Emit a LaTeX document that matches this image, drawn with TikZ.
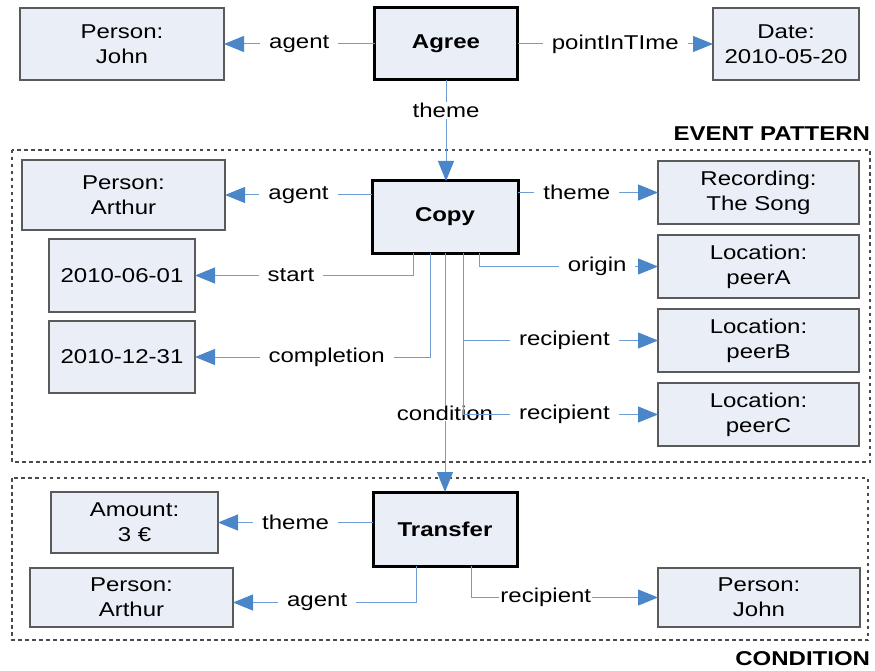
\documentclass[tikz,border=0pt]{standalone}
\usepackage{fontspec}
\setmainfont{Liberation Sans}[FakeStretch=1.2]
\usepackage{xcolor}
\definecolor{entityFill}{HTML}{E9EEF7}
\definecolor{entityLine}{HTML}{5A5A5A}
\definecolor{linkBlue}{HTML}{4A86C8}
\definecolor{linkLine}{HTML}{6E9DD3}
\definecolor{frameGray}{HTML}{4A4A4A}
\usetikzlibrary{arrows.meta, positioning}

\begin{document}
\begin{tikzpicture}[
    x=1pt, y=-1pt,
    every node/.style={outer sep=0pt, inner sep=3pt, font=\fontsize{20}{25}\selectfont},
    entity/.style={draw=entityLine, fill=entityFill, line width=1.2pt, align=center, minimum height=72pt},
    rightBox/.style={entity, minimum width=201pt, minimum height=63pt},
    eventBox/.style={draw=black, fill=entityFill, line width=3pt, minimum height=72pt, font=\fontsize{20}{25}\selectfont\bfseries},
    rel/.style={fill=white, inner xsep=9pt, inner ysep=1pt},
    tight/.style={inner xsep=1pt},
    title/.style={font=\fontsize{20}{25}\selectfont\bfseries, inner sep=0pt},
    frame/.style={draw=frameGray, line width=1.3pt, dash pattern=on 3.5pt off 3.5pt},
    link/.style={draw=linkLine, line width=1pt, -{Triangle[length=20pt, width=16pt, color=linkBlue]}}
]
    \useasboundingbox (0,0) rectangle (875,671);

    % Dashed frames for the two patterns
    \draw [frame] (12,150) rectangle (870,462);
    \draw [frame] (12,478) rectangle (868,640);
    \node (eventTitle) [title, anchor=south east] at (870,141) {EVENT PATTERN};
    \node (condTitle) [title, anchor=south east] at (870,666) {CONDITION};

    % Agree event and its roles
    \node (agree) [eventBox, minimum width=143pt] at (446,44) {Agree};
    \node (johnA) [entity, minimum width=204pt] at (122,44) {Person:\\John};
    \node (date) [entity, minimum width=146pt] at (786,44) {Date:\\2010-05-20};

    % Copy event
    \node (copy) [eventBox, minimum width=146pt] at (445,217) {Copy};
    \node (arthurA) [entity, minimum width=203pt, minimum height=70pt] at (123.5,195) {Person:\\Arthur};
    \node (startDate) [entity, minimum width=146pt, minimum height=73pt] at (122,275.5) {2010-06-01};
    \node (endDate) [entity, minimum width=146pt, below=9pt of startDate] {2010-12-31};
    \node (song) [rightBox] at (758.5,192.5) {Recording:\\The Song};
    \node (peerA) [rightBox, below=11pt of song] {Location:\\peerA};
    \node (peerB) [rightBox, below=11pt of peerA] {Location:\\peerB};
    \node (peerC) [rightBox, below=11pt of peerB] {Location:\\peerC};

    % Transfer event
    \node (transfer) [eventBox, minimum width=144pt, minimum height=74pt] at (445,529) {Transfer};
    \node (amount) [entity, minimum width=167pt, minimum height=61pt] at (134.5,522.5) {Amount:\\3 €};
    \node (arthurB) [entity, minimum width=203pt, minimum height=59pt] at (131.5,597.5) {Person:\\Arthur};
    \node (johnB) [entity, minimum width=202pt, minimum height=59pt] at (759,597.5) {Person:\\John};

    % Role links of Agree
    \draw [link] (agree) -- node [rel] {agent} (johnA);
    \draw [link] (agree) -- node [rel] {pointInTIme} (date);
    \draw [link] (agree.south) -- node [rel, pos=0.3] {theme} (agree |- copy.north);

    % Role links of Copy
    \draw [link] (copy.west |- arthurA) -- node [rel] {agent} (arthurA);
    \draw [link] (copy.east |- song) -- node [rel, pos=0.42] {theme} (song);
    \draw [link] ([xshift=-32pt]copy.south) |- node [rel, pos=0.78] {start} (startDate);
    \draw [link] ([xshift=-15pt]copy.south) |- node [rel, pos=0.72] {completion} (endDate);
    \draw [link] ([xshift=34pt]copy.south) |- node [rel, pos=0.83] {origin} (peerA);
    \draw [link] (copy.south) -- node [rel, pos=0.67] {condition} (copy |- transfer.north);
    \draw [link] ([xshift=18pt]copy.south) |- node [rel, pos=0.76] {recipient} (peerB);
    \draw [link] ([xshift=18pt]copy.south) |- node [rel, pos=0.76] {recipient} (peerC);

    % Role links of Transfer
    \draw [link] (transfer.west |- amount) -- node [rel] {theme} (amount);
    \draw [link] ([xshift=-29pt]transfer.south) |- node [rel, pos=0.77] {agent} ([yshift=-5pt]arthurB.east);
    \draw [link] ([xshift=26pt]transfer.south) |- node [rel, tight, pos=0.7] {recipient} (johnB);
\end{tikzpicture}
\end{document}
